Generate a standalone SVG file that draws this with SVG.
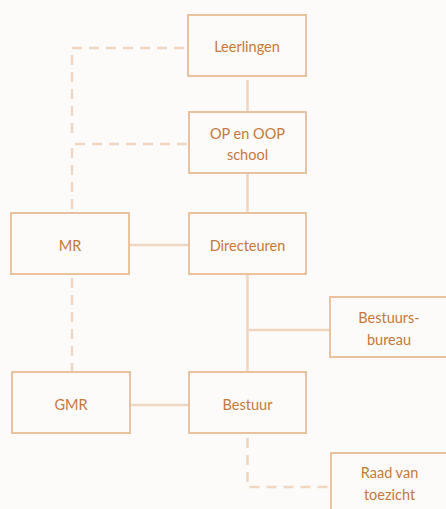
<svg xmlns="http://www.w3.org/2000/svg" width="446" height="509" viewBox="0 0 446 509">
<style>
.box{fill:#FFFFFF;fill-opacity:0;stroke:#EBC29E;stroke-width:2}
.t{font-family:Lato,"Open Sans","Liberation Sans",sans-serif;font-size:14.5px;fill:#C5783A;text-anchor:middle}
.c{fill:none;stroke:#F0D6C0;stroke-width:2.5}
.d{fill:none;stroke:#F0D6C0;stroke-width:2.5;stroke-dasharray:10 7}
</style>
<rect width="446" height="509" fill="#FDFBFA"/>
<g id="connectors">
<path class="c" d="M247.5 80 V112"/>
<path class="c" d="M247.5 173 V213"/>
<path class="c" d="M129 245 H189"/>
<path class="c" d="M247.5 274 V372"/>
<path class="c" d="M247.5 330 H330"/>
<path class="c" d="M130 405 H189"/>
<path class="d" d="M184 48 H72 V140"/>
<path class="d" d="M187 144 H72 V210"/>
<path class="d" d="M72 278 V372"/>
<path class="d" d="M247.5 438 V487 H331"/>
</g>
<g id="leerlingen"><rect class="box" x="188" y="15" width="118" height="61"/><text class="t" x="247" y="52">Leerlingen</text></g>
<g id="op-oop"><rect class="box" x="189" y="112" width="117" height="61"/><text class="t" x="247.5" y="139">OP en OOP</text><text class="t" x="247.5" y="160">school</text></g>
<g id="mr"><rect class="box" x="11" y="213" width="118" height="61"/><text class="t" x="70" y="251">MR</text></g>
<g id="directeuren"><rect class="box" x="189" y="213" width="117" height="61"/><text class="t" x="247.5" y="251">Directeuren</text></g>
<g id="bestuursbureau"><rect class="box" x="330" y="297" width="120" height="60"/><text class="t" x="389" y="323">Bestuurs-</text><text class="t" x="389" y="345">bureau</text></g>
<g id="gmr"><rect class="box" x="12" y="372" width="118" height="61"/><text class="t" x="71" y="410">GMR</text></g>
<g id="bestuur"><rect class="box" x="189" y="372" width="117" height="61"/><text class="t" x="247.5" y="410">Bestuur</text></g>
<g id="raad"><rect class="box" x="331" y="453" width="120" height="70"/><text class="t" x="389.5" y="478">Raad van</text><text class="t" x="389.5" y="500">toezicht</text></g>
</svg>
